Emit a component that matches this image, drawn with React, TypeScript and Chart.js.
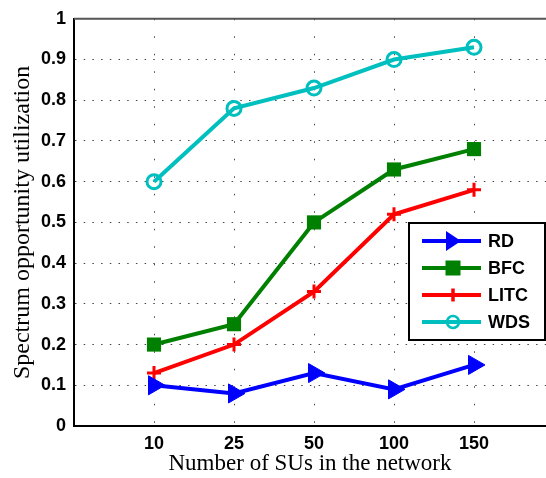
import React, { useEffect, useRef } from "react";
import { Chart, registerables } from "chart.js";

Chart.register(...registerables);

const categories = ["10", "25", "50", "100", "150"];
const seriesNames = ["RD", "BFC", "LITC", "WDS"];
const rdValues = [0.1, 0.08, 0.13, 0.09, 0.15];
const bfcValues = [0.2, 0.25, 0.5, 0.63, 0.68];
const litcValues = [0.13, 0.2, 0.33, 0.52, 0.58];
const wdsValues = [0.6, 0.78, 0.83, 0.9, 0.93];
const yTicks = [0, 0.1, 0.2, 0.3, 0.4, 0.5, 0.6, 0.7, 0.8, 0.9, 1];

const colors = ["#0000ff", "#008000", "#ff0000", "#00bfbf"];
const styles = ["triangle", "rect", "cross", "circle"];

function drawMarker(ctx: CanvasRenderingContext2D, kind: string, x: number, y: number, color: string) {
  ctx.save();
  ctx.fillStyle = color;
  ctx.strokeStyle = color;
  ctx.setLineDash([]);
  if (kind === "triangle") {
    ctx.beginPath();
    ctx.moveTo(x - 7, y - 10);
    ctx.lineTo(x + 8, y);
    ctx.lineTo(x - 7, y + 10);
    ctx.closePath();
    ctx.fill();
  } else if (kind === "rect") {
    ctx.fillRect(x - 7.5, y - 7.5, 15, 15);
  } else if (kind === "cross") {
    ctx.lineWidth = 3.5;
    ctx.beginPath();
    ctx.moveTo(x - 5, y);
    ctx.lineTo(x + 5, y);
    ctx.moveTo(x, y - 6.5);
    ctx.lineTo(x, y + 6.5);
    ctx.stroke();
  } else {
    ctx.lineWidth = 2.5;
    ctx.beginPath();
    ctx.arc(x, y, 6, 0, Math.PI * 2);
    ctx.stroke();
  }
  ctx.restore();
}

const frameAndLegend = {
  id: "frameAndLegend",
  afterDraw(chart: any) {
    const { ctx, chartArea } = chart;
    ctx.save();
    ctx.strokeStyle = "#555555";
    ctx.lineWidth = 2;
    ctx.beginPath();
    ctx.moveTo(chartArea.left, chartArea.top);
    ctx.lineTo(chartArea.right, chartArea.top);
    ctx.stroke();

    const bx = 409, by = 223, bw = 136, bh = 117;
    ctx.fillStyle = "#ffffff";
    ctx.fillRect(bx, by, bw, bh);
    ctx.strokeStyle = "#000000";
    ctx.lineWidth = 2;
    ctx.strokeRect(bx, by, bw, bh);
    chart.data.datasets.forEach((ds: any, i: number) => {
      const cy = by + 18 + i * 27;
      ctx.strokeStyle = ds.borderColor;
      ctx.lineWidth = 4;
      ctx.beginPath();
      ctx.moveTo(bx + 13, cy);
      ctx.lineTo(bx + 72, cy);
      ctx.stroke();
      drawMarker(ctx, styles[i], bx + 44, cy, ds.borderColor);
      ctx.fillStyle = "#000000";
      ctx.font = "bold 18px 'Liberation Sans', Arial, sans-serif";
      ctx.textBaseline = "middle";
      ctx.textAlign = "left";
      ctx.fillText(ds.label, bx + 79, cy + 1);
    });
    ctx.restore();
  },
};

export default function App() {
  const ref = useRef<HTMLCanvasElement | null>(null);
  useEffect(() => {
    document.body.style.margin = "0";
    if (!ref.current) return;
    const allValues = [rdValues, bfcValues, litcValues, wdsValues];
    const radii = [11, 10, 7, 7];
    const chart = new Chart(ref.current, {
      type: "line",
      data: {
        datasets: allValues.map((vals, i) => ({
          label: seriesNames[i],
          data: vals.map((v, j) => ({ x: j + 1, y: v })),
          borderColor: colors[i],
          backgroundColor: colors[i],
          pointBackgroundColor: i === 3 ? "rgba(0,0,0,0)" : colors[i],
          pointBorderColor: colors[i],
          pointStyle: styles[i] as any,
          pointRotation: i === 0 ? 90 : 0,
          pointRadius: radii[i],
          pointBorderWidth: i === 0 ? 1 : i === 1 ? 0 : 3,
          borderWidth: 4,
          tension: 0,
          clip: false as any,
        })),
      },
      plugins: [frameAndLegend],
      options: {
        responsive: false,
        animation: false,
        layout: { autoPadding: false, padding: { top: 18, right: 0, left: 0, bottom: 0 } },
        plugins: { legend: { display: false }, tooltip: { enabled: false } },
        scales: {
          x: {
            type: "linear",
            min: 0,
            max: 5.9,
            afterBuildTicks: (s: any) => {
              s.ticks = categories.map((_, i) => ({ value: i + 1 }));
            },
            afterFit: (s: any) => {
              s.height = 52;
              s.paddingLeft = 0;
              s.paddingRight = 0;
            },
            ticks: {
              autoSkip: false,
              maxRotation: 0,
              padding: 7,
              color: "#000000",
              font: { family: "'Liberation Sans', Arial, sans-serif", size: 18, weight: "bold" },
              callback: (v: any) => categories[Math.round(v) - 1] ?? "",
            },
            grid: { color: "#444444", lineWidth: 1, drawTicks: false },
            border: { display: true, color: "#000000", width: 2, dash: [1.5, 16] },
            title: {
              display: true,
              text: "Number of SUs in the network",
              color: "#000000",
              font: { family: "'Liberation Serif', 'Times New Roman', serif", size: 23 },
              padding: { top: 0, bottom: 0 },
            },
          },
          y: {
            min: 0,
            max: 1,
            afterBuildTicks: (s: any) => {
              s.ticks = yTicks.map((v) => ({ value: v }));
            },
            afterFit: (s: any) => {
              s.width = 74;
            },
            ticks: {
              padding: 8,
              color: "#000000",
              font: { family: "'Liberation Sans', Arial, sans-serif", size: 18, weight: "bold" },
              callback: (v: any) => String(Number(Number(v).toFixed(1))),
            },
            grid: { color: "#444444", lineWidth: 1, drawTicks: false },
            border: { display: true, color: "#000000", width: 2, dash: [1.5, 7.2] },
            title: {
              display: true,
              text: "Spectrum opportunity utilization",
              color: "#000000",
              font: { family: "'Liberation Serif', 'Times New Roman', serif", size: 24 },
              padding: { top: 8, bottom: 0 },
            },
          },
        },
      },
    });
    return () => chart.destroy();
  }, []);
  return <canvas ref={ref} width={546} height={478} style={{ display: "block" }} />;
}
